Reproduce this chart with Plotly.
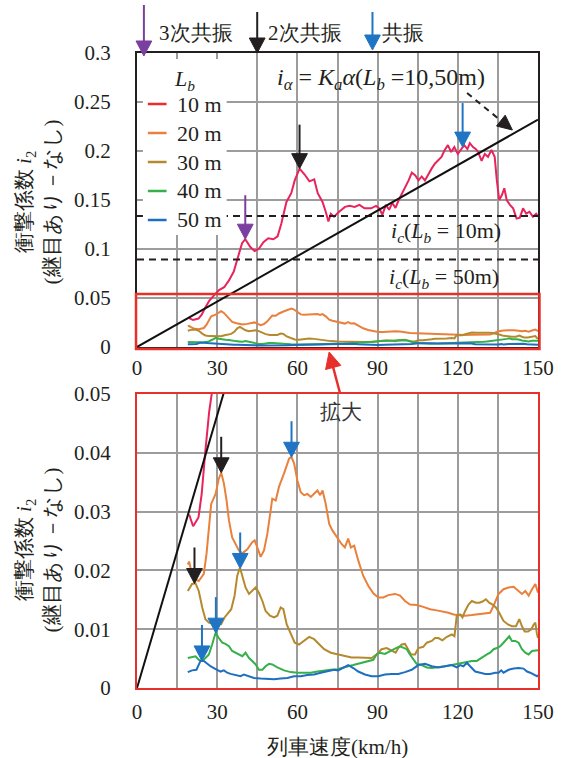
import math
import numpy as np
import plotly.graph_objects as go

# ---------------- data ----------------
speed_10 = [19.5, 21, 23, 24.2, 25.5, 27, 28.9, 30.7, 32.6, 34.4,
            36.2, 38.1, 39.3, 40.5, 42.4, 44, 45.5, 47.3, 49.1, 51,
            52.6, 54, 55.9, 57.7, 59, 60.8, 62.7, 64.5, 66.3, 67.6,
            69.4, 70.6, 71.6, 72.5, 73.7, 75.6, 77.8, 79.5, 81.4, 83.2,
            85.1, 87.6, 89.4, 90.6, 91.8, 93.1, 94.3, 95.5, 96.7, 97.9,
            99.2, 100.4, 101.6, 102.8, 104.1, 105.3, 106.5, 107.7, 109, 110.2,
            111.4, 112.6, 113.9, 115.1, 116.3, 117.5, 118.7, 120, 121.2, 122.4,
            123.6, 124.5, 125.7, 126.7, 127.6, 128.9, 130.1, 131.3, 132.6, 133.8,
            134.6, 135.5, 136.5, 137.4, 138.3, 139.5, 140.7, 142, 143.2, 144.4,
            145.6, 146.8, 148.1, 149.3, 150]
imp_10 = [0.0295, 0.0275, 0.029, 0.033, 0.040, 0.047, 0.053, 0.058, 0.061, 0.068,
          0.077, 0.094, 0.106, 0.110, 0.102, 0.098, 0.100, 0.107, 0.111, 0.110,
          0.113, 0.126, 0.148, 0.157, 0.170, 0.182, 0.176, 0.169, 0.171, 0.157,
          0.148, 0.138, 0.128, 0.136, 0.133, 0.138, 0.143, 0.144, 0.143, 0.145,
          0.1415, 0.1415, 0.144, 0.1415, 0.135, 0.145, 0.140, 0.147, 0.142, 0.150,
          0.157, 0.163, 0.170, 0.178, 0.175, 0.170, 0.174, 0.170, 0.177, 0.182,
          0.187, 0.190, 0.194, 0.201, 0.206, 0.199, 0.204, 0.197, 0.202, 0.206,
          0.202, 0.208, 0.204, 0.202, 0.199, 0.190, 0.197, 0.194, 0.201, 0.194,
          0.170, 0.150, 0.155, 0.162, 0.150, 0.145, 0.1415, 0.131, 0.132, 0.1415,
          0.136, 0.138, 0.133, 0.136, 0.133]

speed_20 = [19, 19.5, 20, 21.5, 23.1, 25, 26, 26.9, 27.75, 29.4,
            30.6, 31.5, 32.5, 33.5, 34.4, 35.6, 36.9, 38.1, 39.4, 41.25,
            43.1, 44, 45, 46.25, 47.5, 48.75, 50, 50.6, 51.9, 53.1,
            55, 56.9, 57.75, 58.75, 60, 61.25, 62.5, 63.75, 65, 66.25,
            67.5, 68.5, 69.4, 70.6, 71.9, 73.1, 74.4, 75.6, 76.5, 77.75,
            79, 80, 81.25, 82.75, 84.6, 86.5, 88.4, 90.25, 92.1, 94,
            96.5, 98.4, 100.25, 102.1, 104.6, 107.1, 109.6, 112.1, 114.6, 116.5,
            118.4, 120.25, 122.75, 125.25, 127.75, 130.25, 132.1, 133.4, 135.25, 137.1,
            139, 140.9, 142.75, 144, 145.25, 146.5, 147.75, 149, 150]
imp_20 = [0.0210, 0.0215, 0.0205, 0.0185, 0.0182, 0.0194, 0.0228, 0.0274, 0.0313, 0.0330,
          0.0356, 0.0366, 0.0348, 0.0319, 0.0285, 0.0256, 0.0245, 0.0234, 0.0229, 0.0236,
          0.0248, 0.0251, 0.0239, 0.0223, 0.0234, 0.0262, 0.0302, 0.0322, 0.0319, 0.0342,
          0.0365, 0.0390, 0.0393, 0.0382, 0.0353, 0.0333, 0.0328, 0.0330, 0.0325, 0.0330,
          0.0336, 0.0328, 0.0336, 0.0313, 0.0279, 0.0268, 0.0259, 0.0251, 0.0245, 0.0239,
          0.0254, 0.0239, 0.0242, 0.0217, 0.0191, 0.0174, 0.0161, 0.0154, 0.0154, 0.0158,
          0.0160, 0.0157, 0.0148, 0.0142, 0.0141, 0.0138, 0.0134, 0.0132, 0.0130, 0.0128,
          0.0125, 0.0124, 0.0123, 0.0124, 0.0125, 0.0126, 0.0128, 0.0140, 0.0160, 0.0168,
          0.0171, 0.0172, 0.0165, 0.0160, 0.0165, 0.0157, 0.0168, 0.0177, 0.0162]

speed_30 = [19, 20.6, 21.9, 23.1, 24.4, 25.6, 26.9, 28.5, 30, 31.5,
            32.75, 34, 35.25, 36.5, 37.5, 38.5, 39.5, 40.6, 41.9, 43.1,
            44.4, 45.6, 46.9, 48.1, 49.75, 51.25, 52.5, 53.75, 54.75, 56,
            57.5, 59, 60.6, 62.5, 64.4, 66.25, 68.1, 70, 72.5, 75,
            77.75, 80.25, 82.75, 85.25, 87.75, 89.6, 91.5, 93.4, 95.25, 96.75,
            97.75, 99, 100.25, 101.25, 102.5, 104, 105.25, 107.1, 108.4, 110.25,
            111.5, 112.75, 114.25, 115.9, 117.75, 118.75, 119.6, 120.9, 121.75, 122.75,
            124, 125.25, 126.75, 128, 129.25, 130.5, 131.75, 133, 134.25, 135.5,
            137.1, 138.75, 140.25, 141.75, 143, 144, 145, 146.25, 147.5, 148.4,
            149, 149.6, 150]
imp_30 = [0.0165, 0.0177, 0.0178, 0.0165, 0.0137, 0.0117, 0.0111, 0.0109, 0.0114, 0.0109,
          0.0120, 0.0128, 0.0134, 0.0157, 0.0191, 0.0205, 0.0188, 0.0171, 0.0160, 0.0165,
          0.0171, 0.0162, 0.0148, 0.0131, 0.0123, 0.0120, 0.0123, 0.0137, 0.0134, 0.0108,
          0.0091, 0.0077, 0.0074, 0.0080, 0.0087, 0.0083, 0.0074, 0.0066, 0.0060, 0.0057,
          0.0054, 0.0052, 0.0052, 0.0052, 0.0051, 0.0057, 0.0066, 0.0068, 0.0063, 0.0060,
          0.0068, 0.0074, 0.0075, 0.0068, 0.0057, 0.0057, 0.0068, 0.0070, 0.0077, 0.0080,
          0.0085, 0.0085, 0.0081, 0.0087, 0.0091, 0.0088, 0.0123, 0.0125, 0.0120, 0.0131,
          0.0142, 0.0148, 0.0145, 0.0145, 0.0147, 0.0151, 0.0145, 0.0142, 0.0137, 0.0128,
          0.0114, 0.0108, 0.0105, 0.0105, 0.0117, 0.0105, 0.0096, 0.0096, 0.0100, 0.0108,
          0.0111, 0.0092, 0.0085]

speed_40 = [19, 20.6, 21.9, 23.1, 24.4, 25.6, 26.9, 28.1, 29.4, 30.6,
            31.9, 33.1, 34.4, 35.6, 36.9, 38.1, 39.4, 40.6, 41.9, 43.1,
            44.4, 45.6, 46.9, 48.1, 49.4, 50.6, 52.5, 55, 57.5, 60,
            62.5, 65, 67.5, 70, 72.5, 75, 77.1, 79, 80.9, 82.75,
            84.6, 86.5, 88.4, 89.6, 90.9, 92.75, 94.6, 96.5, 98.4, 99.6,
            100.9, 102.1, 103.4, 104.6, 106.5, 108.4, 110.25, 112.75, 115.25, 117.75,
            120.25, 122.75, 125.25, 127.1, 128.4, 129.6, 130.9, 132.1, 133.4, 134.6,
            135.9, 137.1, 138.4, 139.25, 140.25, 141.5, 142.75, 144, 145.25, 146.5,
            147.75, 149, 150]
imp_40 = [0.0051, 0.0052, 0.0054, 0.0048, 0.0046, 0.0051, 0.0057, 0.0074, 0.0094, 0.0085,
          0.0077, 0.0075, 0.0071, 0.0063, 0.0060, 0.0057, 0.0054, 0.0060, 0.0051, 0.0046,
          0.0040, 0.0031, 0.0031, 0.0037, 0.0041, 0.0040, 0.0035, 0.0030, 0.0027, 0.0026,
          0.0026, 0.0026, 0.0028, 0.0030, 0.0031, 0.0032, 0.0034, 0.0037, 0.0039, 0.0041,
          0.0043, 0.0046, 0.0048, 0.0057, 0.0060, 0.0058, 0.0063, 0.0067, 0.0071, 0.0068,
          0.0066, 0.0057, 0.0048, 0.0041, 0.0039, 0.0035, 0.0034, 0.0035, 0.0037, 0.0039,
          0.0041, 0.0043, 0.0046, 0.0046, 0.0050, 0.0054, 0.0057, 0.0060, 0.0066, 0.0068,
          0.0071, 0.0077, 0.0083, 0.0088, 0.0080, 0.0080, 0.0077, 0.0066, 0.0060, 0.0057,
          0.0063, 0.0064, 0.0064]

speed_50 = [19, 20.6, 22.25, 23.75, 25, 26.25, 27.5, 28.75, 30, 31.25,
            32.5, 33.75, 35, 36.25, 37.5, 38.75, 40, 41.9, 43.75, 46.25,
            48.75, 51.25, 53.75, 56.25, 58.75, 61.25, 63.75, 66.25, 68.75, 71.25,
            73.75, 75.25, 77.1, 79, 80.9, 82.75, 85.25, 87.75, 90.25, 92.75,
            95.25, 97.75, 100.25, 102.75, 105.25, 107.75, 110.25, 112.75, 115.25, 117.75,
            119.6, 120.9, 122.1, 123.4, 124.6, 126.5, 128.4, 130.25, 132.1, 134,
            135.25, 136.25, 137.1, 139, 140.9, 142.75, 144.6, 145.9, 147.1, 148.4,
            149.6, 150]
imp_50 = [0.0027, 0.0030, 0.0031, 0.0046, 0.0046, 0.0041, 0.0037, 0.0034, 0.0031, 0.0028,
          0.0030, 0.0026, 0.0024, 0.0023, 0.0022, 0.0020, 0.0023, 0.0020, 0.0017, 0.0016,
          0.0015, 0.0015, 0.0016, 0.0017, 0.0020, 0.0020, 0.0022, 0.0023, 0.0026, 0.0028,
          0.0031, 0.0030, 0.0034, 0.0039, 0.0034, 0.0028, 0.0023, 0.0020, 0.0020, 0.0023,
          0.0024, 0.0024, 0.0027, 0.0031, 0.0039, 0.0041, 0.0037, 0.0035, 0.0037, 0.0039,
          0.0035, 0.0039, 0.0037, 0.0043, 0.0037, 0.0028, 0.0026, 0.0024, 0.0024, 0.0026,
          0.0026, 0.0030, 0.0026, 0.0031, 0.0033, 0.0034, 0.0033, 0.0028, 0.0026, 0.0023,
          0.0020, 0.0022]

series_names = ["10 m", "20 m", "30 m", "40 m", "50 m"]
series_speed = [speed_10, speed_20, speed_30, speed_40, speed_50]
series_imp = [imp_10, imp_20, imp_30, imp_40, imp_50]
series_colors = ["#e8245c", "#e9803c", "#b58a2e", "#35b04a", "#1f6fc0"]
legend_colors = ["#ee2a2a", "#e9803c", "#b58a2e", "#35b04a", "#1f6fc0"]

ia_speed = [0, 150]
ia_value = [0, 0.232]
ic_10m = 0.1337
ic_50m = 0.0893

# resonance arrows: (series index, speed, colour)
top_arrows = [(0, 40.5, "#7b3fa0"), (0, 60.8, "#231f20"), (0, 121.8, "#1f75c4")]
bottom_arrows = [(1, 31.5, "#231f20"), (1, 57.8, "#1f75c4"), (2, 38.6, "#1f75c4"),
                 (2, 21.5, "#231f20"), (3, 29.5, "#1f75c4"), (4, 24.3, "#1f75c4")]

x_ticks = [0, 30, 60, 90, 120, 150]
x_minor = [15, 45, 75, 105, 135]
top_range = [0, 0.3]
bottom_range = [0, 0.05]

# ---------------- layout helpers ----------------
W, H = 566, 758
L, R, T, B = 137, 22, 53, 70
PW = W - L - R
PH = H - T - B
TOP_Y0, TOP_Y1 = 347, 53      # pixel rows of the upper panel (bottom, top)
BOT_Y0, BOT_Y1 = 688, 394     # pixel rows of the lower panel (bottom, top)


def px(xp):
    return (xp - L) / PW


def py(yp):
    return (H - B - yp) / PH


def data_to_px(x, y, panel):
    xx = L + x / 150 * PW
    if panel == "top":
        yy = TOP_Y0 - (y - top_range[0]) / (top_range[1] - top_range[0]) * (TOP_Y0 - TOP_Y1)
    else:
        yy = BOT_Y0 - (y - bottom_range[0]) / (bottom_range[1] - bottom_range[0]) * (BOT_Y0 - BOT_Y1)
    return xx, yy


FONT = "Liberation Serif"
TXT = "#231f20"
GRID = "#9c9c9c"
RED = "#e8302a"

shapes = []
annotations = []


def arrow(tail, tip, color, width=2, head_len=15, head_w=16, dash=None):
    """Arrow drawn with shapes; tail/tip in pixel coordinates."""
    (x0, y0), (x1, y1) = tail, tip
    d = math.hypot(x1 - x0, y1 - y0)
    ux, uy = (x1 - x0) / d, (y1 - y0) / d
    bx, by = x1 - ux * head_len, y1 - uy * head_len
    nx, ny = -uy, ux
    line = dict(color=color, width=width)
    if dash:
        line["dash"] = dash
    shapes.append(dict(type="line", xref="paper", yref="paper",
                       x0=px(x0), y0=py(y0), x1=px(bx + ux), y1=py(by + uy),
                       line=line, layer="above"))
    pts = [(bx + nx * head_w / 2, by + ny * head_w / 2), (x1, y1),
           (bx - nx * head_w / 2, by - ny * head_w / 2)]
    path = "M {:.5f},{:.5f} L {:.5f},{:.5f} L {:.5f},{:.5f} Z".format(
        px(pts[0][0]), py(pts[0][1]), px(pts[1][0]), py(pts[1][1]),
        px(pts[2][0]), py(pts[2][1]))
    shapes.append(dict(type="path", xref="paper", yref="paper", path=path,
                       fillcolor=color, line=dict(color=color, width=1), layer="above"))


fig = go.Figure()

for name, sx, sy, c in zip(series_names, series_speed, series_imp, series_colors):
    fig.add_trace(go.Scatter(x=sx, y=sy, mode="lines", name=name,
                             line=dict(color=c, width=2), xaxis="x", yaxis="y",
                             showlegend=False))
    fig.add_trace(go.Scatter(x=sx, y=sy, mode="lines", name=name,
                             line=dict(color=c, width=2), xaxis="x2", yaxis="y2",
                             showlegend=False))

for val in (ic_10m, ic_50m):
    fig.add_trace(go.Scatter(x=[0, 150], y=[val, val], mode="lines",
                             line=dict(color="#231f20", width=2, dash="7px,5px"),
                             xaxis="x", yaxis="y", showlegend=False))

fig.add_trace(go.Scatter(x=ia_speed, y=ia_value, mode="lines",
                         line=dict(color="#111111", width=2),
                         xaxis="x", yaxis="y", showlegend=False))
fig.add_trace(go.Scatter(x=ia_speed, y=ia_value, mode="lines",
                         line=dict(color="#111111", width=2),
                         xaxis="x2", yaxis="y2", showlegend=False))


def xaxis_style(anchor, linecolor, standoff):
    return dict(domain=[0, 1], anchor=anchor, range=[0, 150], tickvals=x_ticks,
                showgrid=True, gridcolor=GRID, gridwidth=1.5,
                minor=dict(tickvals=x_minor, showgrid=True, gridcolor=GRID, gridwidth=1.5),
                showline=True, linecolor=linecolor, linewidth=2, mirror=True,
                zeroline=False, ticks="", ticklabelstandoff=standoff,
                tickfont=dict(size=21, color=TXT, family=FONT))


def yaxis_style(anchor, dom, rng, dt, linecolor):
    return dict(domain=dom, anchor=anchor, range=rng, dtick=dt, tick0=0,
                showgrid=True, gridcolor=GRID, gridwidth=1.5,
                showline=True, linecolor=linecolor, linewidth=2, mirror=True,
                zeroline=False, ticks="", ticklabelstandoff=20,
                tickfont=dict(size=21, color=TXT, family=FONT))


# red highlight box in the upper panel
shapes.append(dict(type="rect", xref="paper", yref="paper", x0=px(136), x1=px(545.5),
                   y0=py(349), y1=py(294), line=dict(color=RED, width=2.5), layer="above"))

# legend box (white) and entries
shapes.append(dict(type="rect", xref="paper", yref="paper", x0=px(143), x1=px(228),
                   y0=py(235), y1=py(59), line=dict(width=0), fillcolor="white", layer="above"))
annotations.append(dict(text="<i>L</i><sub><i>b</i></sub>", xref="paper", yref="paper",
                        x=px(185), y=py(80), showarrow=False, xanchor="center", yanchor="middle",
                        font=dict(size=22, color=TXT, family=FONT)))
for i, (name, c) in enumerate(zip(series_names, legend_colors)):
    yy = 104 + 29 * i
    shapes.append(dict(type="line", xref="paper", yref="paper", x0=px(148), x1=px(167),
                       y0=py(yy), y1=py(yy), line=dict(color=c, width=2.5), layer="above"))
    annotations.append(dict(text=name, xref="paper", yref="paper", x=px(176), y=py(yy),
                            showarrow=False, xanchor="left", yanchor="middle",
                            font=dict(size=22, color=TXT, family=FONT)))

# formula labels
annotations.append(dict(text="<i>i</i><sub><i>α</i></sub> = <i>K</i><sub><i>a</i></sub><i>α</i>(<i>L</i><sub><i>b</i></sub> =10,50m)",
                        xref="paper", yref="paper", x=px(385), y=py(79), showarrow=False,
                        xanchor="center", yanchor="middle", font=dict(size=24, color=TXT, family=FONT)))
annotations.append(dict(text="<i>i</i><sub><i>c</i></sub>(<i>L</i><sub><i>b</i></sub> = 10m)",
                        xref="paper", yref="paper", x=px(451), y=py(232), showarrow=False,
                        xanchor="center", yanchor="middle", font=dict(size=22, color=TXT, family=FONT)))
annotations.append(dict(text="<i>i</i><sub><i>c</i></sub>(<i>L</i><sub><i>b</i></sub> = 50m)",
                        xref="paper", yref="paper", x=px(449), y=py(278), showarrow=False,
                        xanchor="center", yanchor="middle", font=dict(size=22, color=TXT, family=FONT)))

# dashed pointer to the i_alpha line
arrow((472, 93), (518, 130), "#231f20", width=2, head_len=15, head_w=14, dash="6px,5px")

# header legend of arrows
for xp, col, tail, tip in [(144, "#7b3fa0", 5, 56), (259, "#231f20", 12, 53), (376, "#1f75c4", 12, 50)]:
    arrow((xp, tail), (xp, tip), col)
for xp, txt in [(157, "3次共振"), (268, "2次共振"), (384, "共振")]:
    annotations.append(dict(text=txt, xref="paper", yref="paper", x=px(xp), y=py(33),
                            showarrow=False, xanchor="left", yanchor="middle",
                            font=dict(size=21, color=TXT, family=FONT)))

# arrows on curves
for si, sp, col in top_arrows:
    yv = float(np.interp(sp, series_speed[si], series_imp[si]))
    tx, ty = data_to_px(sp, yv, "top")
    arrow((tx, ty - 44), (tx, ty), col)
for si, sp, col in bottom_arrows:
    yv = float(np.interp(sp, series_speed[si], series_imp[si]))
    tx, ty = data_to_px(sp, yv, "bottom")
    arrow((tx, ty - 36), (tx, ty), col)

# red arrow linking the panels
arrow((343, 393), (332, 352), RED, width=2.5, head_len=16, head_w=16)
annotations.append(dict(text="拡大", xref="paper", yref="paper", x=px(344), y=py(412),
                        showarrow=False, xanchor="center", yanchor="middle",
                        font=dict(size=21, color="#333333", family=FONT)))

# axis titles
ytitle = "衝撃係数 <i>i</i><sub>2</sub><br>(継目あり－なし)"
for yc in (202, 550):
    annotations.append(dict(text=ytitle, xref="paper", yref="paper", x=px(36), y=py(yc),
                            showarrow=False, textangle=-90, xanchor="center", yanchor="middle",
                            font=dict(size=21, color=TXT, family=FONT)))
annotations.append(dict(text="列車速度(km/h)", xref="paper", yref="paper", x=px(341), y=py(747),
                        showarrow=False, xanchor="center", yanchor="middle",
                        font=dict(size=21, color=TXT, family=FONT)))

fig.update_layout(
    width=W, height=H,
    margin=dict(l=L, r=R, t=T, b=B, pad=0),
    paper_bgcolor="white", plot_bgcolor="white",
    font=dict(family=FONT, color=TXT, size=21),
    xaxis=xaxis_style("y", "#231f20", 1),
    yaxis=yaxis_style("x", [py(TOP_Y0), 1.0], top_range, 0.05, "#231f20"),
    xaxis2=xaxis_style("y2", RED, 4),
    yaxis2=yaxis_style("x2", [0.0, py(BOT_Y1)], bottom_range, 0.01, RED),
    shapes=shapes, annotations=annotations, showlegend=False,
)

fig.write_html("out.html")
